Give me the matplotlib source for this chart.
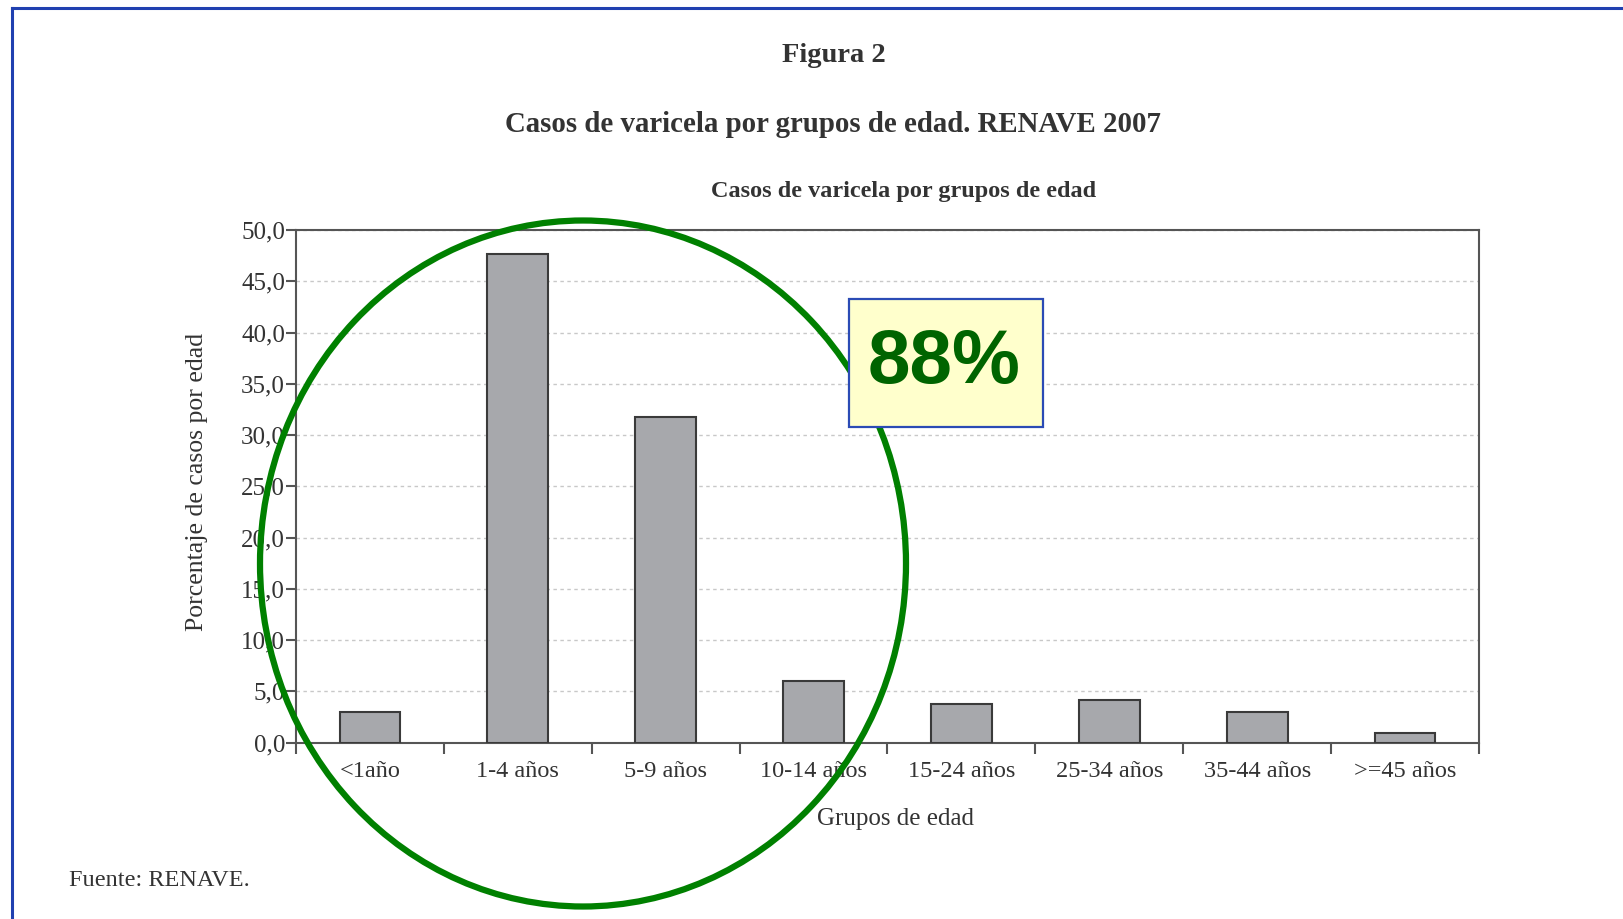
import matplotlib.pyplot as plt
from matplotlib.patches import Ellipse, Rectangle
from matplotlib.lines import Line2D
from matplotlib.ticker import FuncFormatter, FixedLocator

# data
categories = ["<1año", "1-4 años", "5-9 años", "10-14 años",
              "15-24 años", "25-34 años", "35-44 años", ">=45 años"]
porcentaje = [3.0, 47.7, 31.8, 6.0, 3.8, 4.2, 3.0, 0.9]
y_ticks = [0, 5, 10, 15, 20, 25, 30, 35, 40, 45, 50]
highlight_text = "88%"

W, H = 1624, 919
plt.rcParams["font.family"] = ["Liberation Serif", "DejaVu Serif"]
text_color = "#333333"

fig = plt.figure(figsize=(W / 100, H / 100), dpi=100)
fig.patch.set_facecolor("white")

ax = fig.add_axes([296 / W, 1 - 742.6 / H, (1479 - 296) / W, (742.6 - 230) / H])

xpos = [i + 0.5 for i in range(len(categories))]
ax.bar(xpos, porcentaje, width=0.41, color="#a7a8ac", edgecolor="#3a3a3a",
       linewidth=1.5, zorder=3)

ax.set_xlim(0, len(categories))
ax.set_ylim(0, 50)

# y axis
ax.set_yticks(y_ticks)
ax.yaxis.set_major_formatter(FuncFormatter(lambda v, p: f"{v:.1f}".replace(".", ",")))
ax.tick_params(axis="y", direction="out", length=7, width=1.5, color="#555555",
               labelsize=18, labelcolor=text_color, pad=1)
ax.yaxis.grid(True, linestyle=(0, (2.5, 2.5)), color="#c8c8c8", linewidth=1.0, zorder=0)

# x axis: ticks at the group boundaries, labels at the centres
ax.xaxis.set_major_locator(FixedLocator(range(len(categories) + 1)))
ax.xaxis.set_minor_locator(FixedLocator(xpos))
ax.set_xticklabels([""] * (len(categories) + 1))
ax.set_xticklabels(categories, minor=True)
ax.tick_params(axis="x", which="major", direction="out", length=8, width=1.5,
               color="#555555")
ax.tick_params(axis="x", which="minor", length=0, labelsize=17.5,
               labelcolor=text_color, pad=13)

for s in ax.spines.values():
    s.set_color("#555555")
    s.set_linewidth(1.5)

# titles and labels
fig.text(834 / W, 1 - 55 / H, "Figura 2", ha="center", va="center",
         fontsize=20.5, fontweight="bold", color=text_color)
fig.text(833 / W, 1 - 124 / H, "Casos de varicela por grupos de edad. RENAVE 2007",
         ha="center", va="center", fontsize=20.8, fontweight="bold", color=text_color)
fig.text(904 / W, 1 - 192 / H, "Casos de varicela por grupos de edad",
         ha="center", va="center", fontsize=17.5, fontweight="bold", color=text_color)
fig.text(197 / W, 1 - 482 / H, "Porcentaje de casos por edad", rotation=90,
         ha="center", va="center", fontsize=18.5, color=text_color)
fig.text(896 / W, 1 - 819 / H, "Grupos de edad", ha="center", va="center",
         fontsize=18, color=text_color)
fig.text(69 / W, 1 - 880 / H, "Fuente: RENAVE.", ha="left", va="center",
         fontsize=17.5, color=text_color)

# green circle around the young groups
circle = Ellipse((583 / W, 1 - 563.5 / H), 646 / W, 686 / H,
                 transform=fig.transFigure, fill=False, edgecolor="#008000",
                 linewidth=4.5, zorder=10)
fig.add_artist(circle)

# highlight box
box = Rectangle((849 / W, 1 - 427 / H), (1043 - 849) / W, (427 - 299) / H,
                transform=fig.transFigure, facecolor="#ffffcc", edgecolor="#2b4bb5",
                linewidth=1.6, zorder=11)
fig.add_artist(box)
fig.text(944 / W, 1 - 364 / H, highlight_text, ha="center", va="center",
         fontsize=55, fontweight="bold", color="#006400", zorder=12,
         family=["Liberation Sans Narrow", "Liberation Sans", "DejaVu Sans"])

# blue page frame
fig.add_artist(Line2D([12 / W, 1], [1 - 8 / H, 1 - 8 / H], transform=fig.transFigure,
                      color="#2040b0", linewidth=2.2))
fig.add_artist(Line2D([12 / W, 12 / W], [0, 1 - 8 / H], transform=fig.transFigure,
                      color="#2040b0", linewidth=2.2))

fig.savefig("out.png", dpi=100)
